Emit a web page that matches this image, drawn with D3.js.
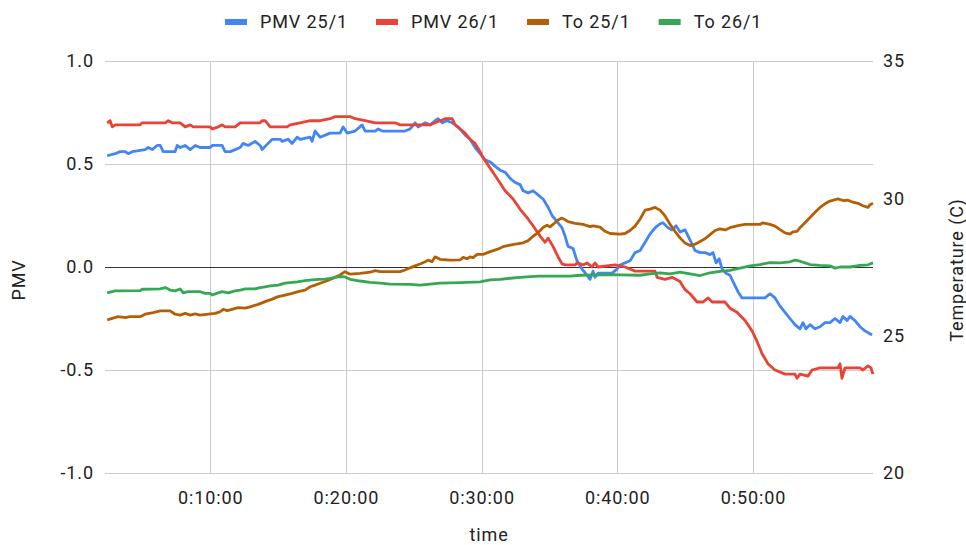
<!DOCTYPE html>
<html>
<head>
<meta charset="utf-8">
<script src="https://cdn.jsdelivr.net/npm/d3@7"></script>
<style>
  html, body { margin: 0; padding: 0; background: #fff; }
  svg { display: block; font-family: Roboto, "Liberation Sans", Arial, sans-serif; }
  .lbl { font-size: 18px; fill: #222; letter-spacing: 0.9px; }
</style>
</head>
<body>
<svg id="chart" width="966" height="545"></svg>
<script>
// ---- data (time in minutes, value) ----
const seriesNames = ["PMV 25/1", "PMV 26/1", "To 25/1", "To 26/1"];
const seriesColors = ["#4285F4", "#EA4335", "#B45F06", "#34A853"];

const pmv25 = [[2.41,0.54],[3.00,0.55],[3.37,0.56],[3.74,0.56],[3.96,0.55],[4.25,0.56],[5.21,0.57],[5.43,0.58],[5.73,0.57],[6.09,0.59],[6.32,0.59],[6.54,0.56],[7.42,0.56],[7.57,0.59],[7.79,0.58],[8.16,0.59],[8.53,0.57],[8.90,0.59],[9.26,0.58],[10.0,0.58],[10.15,0.59],[10.88,0.59],[11.10,0.56],[11.47,0.56],[11.84,0.57],[12.21,0.58],[12.43,0.60],[12.80,0.59],[13.31,0.61],[13.68,0.59],[13.83,0.57],[14.27,0.60],[14.57,0.62],[15.16,0.62],[15.30,0.61],[15.74,0.62],[16.04,0.60],[16.41,0.63],[16.63,0.62],[17.37,0.63],[17.51,0.61],[17.73,0.66],[18.10,0.63],[18.84,0.65],[19.57,0.65],[19.80,0.68],[20.09,0.65],[20.68,0.66],[21.20,0.69],[21.42,0.66],[22.16,0.66],[22.38,0.67],[22.67,0.66],[23.63,0.66],[24.36,0.66],[24.73,0.67],[25.10,0.70],[25.32,0.68],[25.84,0.70],[26.20,0.69],[26.57,0.71],[26.79,0.72],[27.09,0.70],[27.46,0.71],[27.83,0.70],[28.27,0.68],[28.79,0.64],[29.15,0.62],[29.52,0.58],[29.89,0.55],[30.26,0.52],[30.63,0.51],[30.99,0.49],[31.36,0.47],[31.73,0.46],[32.10,0.43],[32.47,0.41],[32.84,0.40],[33.06,0.37],[33.43,0.36],[33.79,0.37],[34.16,0.35],[34.53,0.33],[34.90,0.29],[35.19,0.25],[35.56,0.22],[35.93,0.19],[36.15,0.15],[36.37,0.10],[36.74,0.09],[37.03,0.03],[37.40,-0.01],[37.77,-0.04],[37.99,-0.06],[38.21,-0.02],[38.36,-0.05],[38.58,-0.03],[39.10,-0.03],[39.62,-0.03],[39.98,-0.01],[40.20,0.01],[40.57,0.02],[40.94,0.03],[41.31,0.07],[41.68,0.08],[42.05,0.12],[42.41,0.16],[42.78,0.19],[43.15,0.21],[43.37,0.215],[43.74,0.19],[44.03,0.18],[44.33,0.20],[44.62,0.17],[44.99,0.18],[45.36,0.13],[45.73,0.08],[46.10,0.07],[46.46,0.07],[46.83,0.06],[47.05,0.07],[47.28,0.02],[47.50,0.04],[47.72,-0.01],[48.01,-0.03],[48.30,-0.04],[48.67,-0.09],[48.89,-0.12],[49.19,-0.15],[50.51,-0.15],[50.88,-0.15],[51.25,-0.13],[51.62,-0.15],[51.99,-0.19],[52.36,-0.22],[52.72,-0.25],[53.09,-0.28],[53.46,-0.30],[53.68,-0.27],[53.90,-0.30],[54.20,-0.28],[54.57,-0.30],[54.94,-0.29],[55.30,-0.27],[55.67,-0.27],[56.04,-0.25],[56.41,-0.27],[56.63,-0.24],[56.92,-0.26],[57.15,-0.24],[57.51,-0.26],[57.88,-0.29],[58.25,-0.31],[58.77,-0.33]];

const pmv26 = [[2.41,0.70],[2.63,0.71],[2.78,0.68],[3.00,0.69],[4.84,0.69],[4.99,0.70],[6.69,0.70],[6.91,0.71],[7.20,0.70],[7.79,0.70],[8.16,0.68],[8.53,0.69],[8.75,0.68],[10.0,0.68],[10.15,0.67],[10.59,0.68],[10.88,0.69],[11.10,0.68],[11.84,0.68],[12.21,0.70],[13.68,0.70],[13.83,0.71],[14.05,0.71],[14.42,0.68],[15.67,0.68],[15.89,0.69],[16.63,0.70],[17.37,0.71],[18.10,0.71],[18.84,0.72],[19.21,0.73],[19.94,0.73],[20.31,0.73],[20.68,0.72],[21.42,0.71],[22.16,0.70],[22.89,0.70],[23.63,0.70],[24.0,0.69],[25.84,0.69],[26.20,0.69],[26.57,0.70],[26.94,0.71],[27.31,0.72],[27.83,0.72],[28.05,0.69],[28.42,0.67],[28.79,0.65],[29.15,0.62],[29.52,0.60],[29.89,0.56],[30.11,0.53],[30.63,0.48],[31.14,0.43],[31.73,0.37],[32.32,0.33],[32.84,0.28],[33.35,0.24],[33.79,0.20],[34.31,0.15],[34.68,0.12],[34.90,0.14],[35.26,0.10],[35.63,0.05],[35.93,0.015],[36.15,0.01],[36.89,0.01],[37.03,0.02],[37.48,0.01],[37.77,0.02],[38.14,0.0],[38.36,0.02],[38.58,0.0],[39.84,0.01],[40.57,0.0],[41.31,-0.02],[42.78,-0.02],[42.93,-0.05],[43.52,-0.06],[44.03,-0.05],[44.62,-0.07],[44.99,-0.11],[45.36,-0.13],[45.88,-0.17],[46.32,-0.17],[46.69,-0.15],[46.98,-0.17],[47.94,-0.17],[48.30,-0.20],[48.82,-0.22],[49.41,-0.26],[49.93,-0.31],[50.29,-0.36],[50.66,-0.42],[51.10,-0.47],[51.62,-0.50],[52.36,-0.52],[53.09,-0.52],[53.24,-0.54],[53.46,-0.52],[54.05,-0.53],[54.35,-0.50],[54.94,-0.49],[56.26,-0.49],[56.41,-0.47],[56.55,-0.54],[56.78,-0.49],[57.88,-0.49],[58.10,-0.50],[58.47,-0.48],[58.69,-0.49],[58.84,-0.52]];

const to25 = [[2.41,25.57],[2.78,25.63],[3.22,25.69],[3.74,25.66],[4.10,25.69],[4.84,25.69],[5.21,25.78],[5.80,25.84],[6.32,25.90],[7.05,25.90],[7.42,25.78],[7.79,25.75],[8.16,25.81],[8.53,25.75],[8.90,25.79],[9.26,25.75],[10.0,25.79],[10.37,25.81],[10.74,25.87],[10.96,25.96],[11.25,25.91],[11.62,25.96],[12.06,26.02],[12.58,26.00],[12.94,26.05],[13.53,26.14],[14.05,26.24],[14.57,26.33],[15.01,26.42],[15.52,26.48],[16.04,26.54],[16.48,26.60],[16.99,26.66],[17.37,26.78],[17.73,26.84],[18.10,26.91],[18.62,27.00],[19.06,27.09],[19.57,27.21],[19.94,27.33],[20.31,27.24],[21.05,27.27],[21.79,27.31],[22.16,27.37],[22.52,27.33],[22.89,27.33],[23.63,27.33],[24.0,27.33],[24.36,27.39],[24.73,27.47],[25.10,27.54],[25.47,27.61],[25.84,27.69],[26.06,27.75],[26.35,27.69],[26.57,27.87],[26.94,27.78],[27.68,27.75],[28.42,27.76],[28.64,27.85],[28.93,27.80],[29.15,27.87],[29.37,27.84],[29.67,27.96],[30.11,27.96],[30.63,28.06],[31.14,28.14],[31.58,28.24],[32.10,28.30],[32.61,28.34],[33.06,28.38],[33.43,28.46],[33.79,28.62],[34.16,28.75],[34.53,28.94],[34.82,29.02],[35.04,28.96],[35.41,29.11],[35.63,29.21],[35.93,29.28],[36.15,29.22],[36.37,29.15],[36.89,29.09],[37.48,29.05],[37.99,28.97],[38.21,29.00],[38.73,28.95],[39.10,28.80],[39.47,28.72],[40.20,28.70],[40.57,28.72],[40.94,28.83],[41.31,28.99],[41.68,29.25],[42.05,29.57],[42.41,29.61],[42.78,29.67],[43.15,29.57],[43.52,29.36],[43.89,29.05],[44.25,28.80],[44.62,28.56],[44.99,28.37],[45.36,28.28],[45.73,28.33],[46.10,28.43],[46.46,28.53],[46.83,28.68],[47.20,28.83],[47.57,28.89],[47.94,28.85],[48.30,28.93],[48.89,29.01],[49.41,29.05],[50.51,29.05],[50.73,29.11],[51.25,29.05],[51.62,28.99],[51.99,28.86],[52.36,28.74],[52.72,28.70],[52.94,28.78],[53.24,28.80],[53.46,28.93],[53.83,29.11],[54.20,29.30],[54.57,29.49],[54.94,29.67],[55.30,29.80],[55.67,29.90],[56.26,29.98],[56.63,29.92],[57.00,29.93],[57.36,29.86],[57.73,29.82],[58.10,29.73],[58.47,29.67],[58.62,29.77],[58.84,29.82]];

const to26 = [[2.41,26.56],[3.00,26.63],[4.84,26.64],[4.99,26.69],[6.32,26.70],[6.69,26.75],[7.05,26.66],[7.42,26.63],[7.79,26.70],[8.01,26.56],[8.38,26.60],[9.26,26.60],[9.63,26.54],[10.0,26.54],[10.15,26.48],[10.59,26.56],[10.88,26.60],[11.33,26.56],[11.84,26.63],[12.21,26.66],[12.58,26.70],[13.31,26.70],[13.68,26.75],[14.05,26.78],[14.42,26.81],[15.01,26.84],[15.52,26.91],[15.89,26.93],[16.41,26.96],[16.99,27.00],[17.51,27.03],[17.96,27.05],[18.47,27.06],[18.84,27.09],[19.21,27.12],[19.57,27.15],[19.94,27.14],[20.31,27.05],[21.05,26.99],[21.79,26.94],[22.52,26.91],[23.26,26.88],[24.73,26.87],[25.47,26.84],[26.20,26.88],[26.94,26.91],[28.42,26.93],[29.89,26.96],[30.63,27.03],[31.36,27.05],[32.10,27.09],[32.84,27.12],[33.57,27.15],[34.31,27.17],[36.52,27.17],[37.26,27.20],[38.73,27.21],[39.47,27.22],[40.20,27.21],[41.68,27.20],[42.41,27.25],[43.15,27.29],[43.89,27.25],[44.62,27.31],[45.36,27.25],[46.10,27.19],[46.83,27.29],[47.57,27.34],[48.30,27.38],[49.04,27.46],[49.78,27.54],[50.51,27.59],[51.25,27.66],[51.99,27.65],[52.72,27.69],[53.09,27.75],[53.46,27.71],[53.83,27.65],[54.20,27.59],[54.94,27.56],[55.67,27.54],[56.04,27.46],[56.41,27.50],[57.15,27.50],[57.88,27.56],[58.47,27.58],[58.84,27.65]];

const timeTicks = [10, 20, 30, 40, 50];
const pmvTicks = [-1, -0.5, 0, 0.5, 1];
const tempTicks = [20, 25, 30, 35];
const xTitle = "time", yLeftTitle = "PMV", yRightTitle = "Temperature (C)";

// ---- layout ----
const svg = d3.select("#chart");
const L = 105, R = 873, T = 61, B = 473;

const x = d3.scaleLinear().domain([2.25, 58.84]).range([L, R]);
const yL = d3.scaleLinear().domain([-1, 1]).range([B, T]);
const yR = d3.scaleLinear().domain([20, 35]).range([B, T]);

const fmtTime = m => { const h = Math.floor(m / 60), mm = Math.floor(m % 60), ss = Math.round((m * 60) % 60);
  return h + ":" + String(mm).padStart(2, "0") + ":" + String(ss).padStart(2, "0"); };
const fmtPmv = d => d.toFixed(1);

// gridlines
const grid = svg.append("g");
grid.selectAll("line.v").data(timeTicks).join("line")
  .attr("x1", d => Math.round(x(d)) + 0.5).attr("x2", d => Math.round(x(d)) + 0.5)
  .attr("y1", T).attr("y2", B).attr("stroke", "#cccccc").attr("stroke-width", 1);
grid.selectAll("line.h").data(pmvTicks.filter(d => d !== 0)).join("line")
  .attr("x1", L).attr("x2", R)
  .attr("y1", d => Math.round(yL(d)) + 0.5).attr("y2", d => Math.round(yL(d)) + 0.5)
  .attr("stroke", "#cccccc").attr("stroke-width", 1);

// axes (labels only)
const axB = svg.append("g").attr("transform", `translate(0,${B})`)
  .call(d3.axisBottom(x).tickValues(timeTicks).tickFormat(fmtTime).tickSize(0).tickPadding(18));
const axL = svg.append("g").attr("transform", `translate(${L},0)`)
  .call(d3.axisLeft(yL).tickValues(pmvTicks).tickFormat(fmtPmv).tickSize(0).tickPadding(11));
const axR = svg.append("g").attr("transform", `translate(${R},0)`)
  .call(d3.axisRight(yR).tickValues(tempTicks).tickFormat(d3.format("d")).tickSize(0).tickPadding(10));
[axB, axL, axR].forEach(a => {
  a.select(".domain").remove();
  a.selectAll("text").attr("class", "lbl").attr("font-size", null).attr("font-family", null);
  a.attr("font-size", null).attr("font-family", null);
});

// series
const lineL = d3.line().x(d => x(d[0])).y(d => yL(d[1]));
const lineR = d3.line().x(d => x(d[0])).y(d => yR(d[1]));
const series = [
  { data: pmv25, gen: lineL }, { data: pmv26, gen: lineL },
  { data: to25, gen: lineR }, { data: to26, gen: lineR }
];

// zero line
svg.append("line").attr("x1", L).attr("x2", R)
  .attr("y1", Math.round(yL(0)) + 0.5).attr("y2", Math.round(yL(0)) + 0.5)
  .attr("stroke", "#333").attr("stroke-width", 1);

svg.append("g").selectAll("path").data(series).join("path")
  .attr("d", d => d.gen(d.data))
  .attr("fill", "none")
  .attr("stroke", (d, i) => seriesColors[i])
  .attr("stroke-width", 2.8)
  .attr("stroke-linejoin", "round");

// titles
svg.append("text").attr("class", "lbl").attr("x", (L + R) / 2).attr("y", 541)
  .attr("text-anchor", "middle").text(xTitle);
svg.append("text").attr("class", "lbl").attr("transform", "translate(25,280) rotate(-90)")
  .attr("text-anchor", "middle").text(yLeftTitle);
svg.append("text").attr("class", "lbl").attr("transform", "translate(963,270) rotate(-90)")
  .attr("text-anchor", "middle").text(yRightTitle);

// legend
const leg = svg.append("g");
let cx = 225;
seriesNames.forEach((name, i) => {
  leg.append("rect").attr("x", cx).attr("y", 19).attr("width", 22).attr("height", 6)
    .attr("fill", seriesColors[i]);
  const t = leg.append("text").attr("class", "lbl").attr("x", cx + 35).attr("y", 28).text(name);
  cx += 35 + t.node().getComputedTextLength() + 28;
});
</script>
</body>
</html>
